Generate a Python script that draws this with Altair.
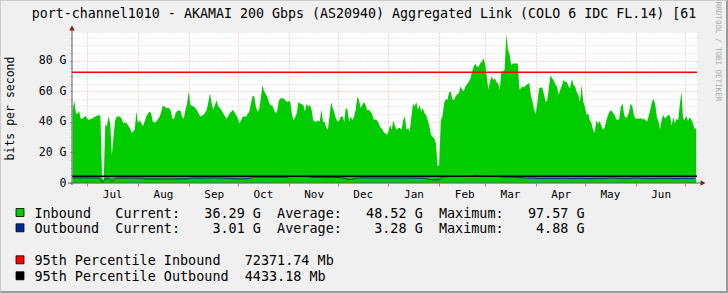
import altair as alt
import pandas as pd

TITLE = "port-channel1010 - AKAMAI 200 Gbps (AS20940) Aggregated Link (COLO 6 IDC FL.14) [61"
Y_TITLE = "bits per second"
WATERMARK = "RRDTOOL / TOBI OETIKER"
FONT = "DejaVu Sans Mono"

# daily inbound (Gbps) starting 2022-06-22
IN_START = "2022-06-22"
inbound_g = [
    47, 54, 46, 45, 47, 42, 42, 43, 44, 42,
    41, 42, 42, 43, 43.5, 44, 44.5, 44, 5, 0.5,
    38, 37, 43.5, 39, 18, 30, 41, 43.5, 43.5, 43.5,
    42, 39, 39.5, 39, 37.5, 36, 32.6, 33.7, 34.8, 46.7,
    39, 41, 39, 37, 40, 43.5, 45, 46.7, 45.6, 40,
    39.5, 40, 41.5, 43, 45.5, 50, 50.5, 49, 49, 49,
    47, 42, 42, 45.5, 47, 47.5, 47, 43, 42, 48,
    52, 59.8, 51, 50.5, 50, 49, 47.5, 45.5, 43.5, 44,
    44.5, 46, 47.8, 53, 58.7, 52, 47.8, 51, 54, 50,
    49, 47.5, 45.6, 44, 42, 43.5, 45.6, 46.5, 47.8, 46,
    44.5, 42, 39, 41, 43.5, 43.5, 43.5, 45, 46.7, 52,
    57, 56.5, 50, 46.5, 48, 55, 64, 60, 58.5, 56,
    53, 50.5, 51, 48, 45.5, 47, 53.5, 55.4, 55.4, 55.2,
    54, 53, 53.5, 53, 45, 41, 43, 45.6, 53, 52,
    51.5, 51, 46.7, 52, 50, 51, 48, 41, 40, 40,
    41, 40, 47.8, 40, 40, 36, 34.8, 43.5, 53, 49,
    45.6, 42, 40, 41, 43.5, 43.5, 40, 49, 47.8, 40,
    43.5, 41, 43.5, 48, 56.5, 54, 49, 51, 53, 51,
    47.5, 47.8, 46.5, 45, 41.5, 41.5, 41, 39, 36.5, 35.5,
    33.5, 32.5, 31.5, 33.7, 38, 34.8, 41, 37, 34.8, 36,
    36, 34.8, 41, 43.5, 34.8, 36, 33.7, 43, 52, 50,
    53, 47.8, 51, 46.7, 49, 45.6, 44.5, 41, 37, 31.5,
    30, 29, 26, 10.9, 12, 41, 43.5, 52, 55, 54,
    59, 60, 55, 54, 56.5, 58, 58.7, 63, 61, 60,
    63, 64.5, 66, 68, 72, 76, 78, 76, 76, 78,
    79, 81.5, 78, 70.6, 61, 66, 69.6, 67.4, 68.5, 66,
    65, 61, 73, 72.8, 74, 97.57, 87, 84, 77, 78,
    78, 78, 78, 61, 62, 63, 62.5, 64, 64.5, 65.5,
    57, 53, 48, 45, 53, 61.5, 62.5, 62, 58, 53,
    54, 62, 70.6, 68.5, 67, 64.3, 63, 57.6, 61, 64,
    67.4, 66, 66, 63, 62, 68, 64, 63, 59.5, 57.5,
    53, 64, 53, 50, 44.5, 45.6, 41, 39, 34.8, 32.6,
    41, 38.5, 40.5, 37.5, 35, 36, 40.5, 44, 46.5, 47.5,
    46, 44.8, 42, 41, 42, 50, 52, 44.5, 42.5, 43.5,
    46.5, 52, 50, 44, 42, 42, 42, 42.5, 41.5, 42,
    41, 40, 44, 48, 53, 55, 51, 43, 40, 35,
    42, 44.5, 42, 43.5, 44.5, 44, 37.5, 43, 39, 42,
    41, 51, 59.8, 42, 41, 44, 40.5, 43, 41.5, 39,
    35, 36.29,
]

# outbound (Gbps) every 2 days starting 2022-06-22
outbound_g = [
    3.3, 3.4, 3.2, 3.3, 3.4, 3.3, 3.2, 3.3, 3.4, 0.5,
    2.5, 3.0, 0.8, 2.8, 3.2, 3.3, 3.3, 3.2, 3.3, 3.3,
    3.2, 3.2, 2.7, 2.6, 2.7, 2.6, 2.6, 2.7, 2.6, 2.6,
    2.7, 2.6, 2.6, 2.7, 2.7, 2.6, 3.2, 3.3, 3.2, 3.1,
    3.2, 3.3, 3.2, 3.4, 3.3, 3.2, 3.2, 3.1, 3.0, 2.9,
    2.7, 2.6, 2.6, 2.7, 3.0, 3.6, 3.8, 3.9, 3.8, 3.9,
    3.8, 3.9, 3.8, 3.9, 3.8, 3.9, 4.0, 4.2, 4.3, 4.2,
    4.3, 4.2, 4.1, 3.8, 3.7, 3.7, 3.8, 3.7, 3.6, 3.7,
    3.6, 3.6, 3.5, 3.2, 2.5, 2.2, 2.8, 3.3, 3.3, 3.4,
    3.3, 3.2, 3.3, 3.3, 3.2, 3.3, 3.2, 3.3, 3.2, 3.3,
    3.3, 3.2, 3.3, 3.2, 3.3, 3.2, 3.1, 3.2, 3.0, 2.3,
    2.1, 2.1, 2.2, 3.8, 4.1, 4.2, 4.2, 4.3, 4.2, 4.3,
    4.3, 4.3, 4.4, 4.88, 4.4, 4.3, 4.3, 4.2, 4.3, 4.2,
    4.3, 4.1, 3.8, 3.9, 3.9, 3.8, 3.7, 3.4, 3.2, 3.1,
    3.3, 3.2, 2.9, 3.0, 2.9, 3.1, 3.0, 2.9, 3.0, 3.1,
    3.1, 3.2, 2.8, 2.9, 3.0, 3.1, 3.0, 2.9, 2.8, 2.8,
    2.9, 3.0, 2.9, 3.1, 3.2, 3.3, 3.1, 3.0, 2.8, 2.8,
    2.9, 3.1, 3.2, 3.2, 3.1, 3.0, 2.9, 2.8, 2.9, 3.0,
    3.1, 3.0, 2.9, 3.0, 2.9, 2.8, 2.9, 3.0, 2.9, 2.8,
    3.01,
]

p95_in_mb = 72371.74
p95_out_mb = 4433.18
in_stats = ["36.29", "48.52", "97.57"]
out_stats = ["3.01", "3.28", "4.88"]
month_starts = [(2022, m) for m in range(7, 13)] + [(2023, m) for m in range(1, 8)]

C_IN = "#00CC00"
C_OUT = "#002A97"
C_P_IN = "#FF0000"
C_P_OUT = "#000000"
GRID_MAJOR = "#E8A8A8"
GRID_MINOR = "#D6D6D6"
AXIS_C = "#606060"
ARROW_C = "#8A1C1C"

in_df = pd.DataFrame({
    "date": pd.date_range(IN_START, periods=len(inbound_g), freq="D").strftime("%Y-%m-%dT00:00:00"),
    "v": inbound_g,
})
out_df = pd.DataFrame({
    "date": pd.date_range(IN_START, periods=len(outbound_g), freq="2D").strftime("%Y-%m-%dT00:00:00"),
    "v": outbound_g,
})
one = pd.DataFrame({"a": [0]})

x_scale = alt.Scale(domain=[alt.DateTime(year=2022, month=6, date=21, hours=16),
                            alt.DateTime(year=2023, month=7, date=8, hours=12)])
y_scale = alt.Scale(domain=[0, 98], nice=False, zero=True)

x_axis = alt.Axis(
    values=[alt.DateTime(year=y, month=m, date=1) for y, m in month_starts],
    labelExpr="(month(datum.value) == 6 && year(datum.value) == 2023) ? '' : timeFormat(datum.value, '%b')",
    labelOffset=25, labelFlush=False, labelOverlap=False, labelAngle=0, labelAlign="center",
    labelFont=FONT, labelFontSize=11, labelColor="#000000", labelPadding=2,
    grid=True, gridColor=GRID_MAJOR, gridDash=[1, 2], gridWidth=1,
    ticks=True, tickColor="#E07070", tickSize=3, domain=False, title=None, zindex=0,
)
y_axis = alt.Axis(
    values=list(range(0, 96, 5)),
    labelExpr="datum.value % 20 == 0 ? (datum.value == 0 ? '0\u00a0\u00a0' : datum.value + ' G') : ''",
    labelOverlap=False, labelFont=FONT, labelFontSize=11.5, labelColor="#000000", labelPadding=4,
    grid=True, gridDash=[1, 2], gridWidth=1,
    gridColor={"condition": {"test": "datum.value % 20 == 0", "value": GRID_MAJOR}, "value": GRID_MINOR},
    ticks=True, tickSize=2,
    tickColor={"condition": {"test": "datum.value % 20 == 0", "value": "#E07070"}, "value": "#BBBBBB"},
    domain=False, title=Y_TITLE, titleFont=FONT, titleFontSize=11.5, titleFontWeight="normal",
    titleColor="#000000", titleAngle=270, titleX=-62, titleY=75, titleAlign="center",
    titleBaseline="middle", zindex=0,
)

X = alt.X("date:T", scale=x_scale, axis=x_axis)

area = alt.Chart(in_df).mark_area(color=C_IN, opacity=1).encode(
    x=X, y=alt.Y("v:Q", scale=y_scale, axis=y_axis))
out_line = alt.Chart(out_df).mark_line(color=C_OUT, strokeWidth=1).encode(
    x=X, y=alt.Y("v:Q", scale=y_scale, axis=y_axis))
p_in = alt.Chart(pd.DataFrame({"v": [p95_in_mb / 1000]})).mark_rule(color=C_P_IN, strokeWidth=1.5).encode(
    y=alt.Y("v:Q", scale=y_scale, axis=y_axis))
p_out = alt.Chart(pd.DataFrame({"v": [p95_out_mb / 1000]})).mark_rule(color=C_P_OUT, strokeWidth=1.5).encode(
    y=alt.Y("v:Q", scale=y_scale, axis=y_axis))

layers = [area, out_line, p_in, p_out]

# axis lines and arrows
layers.append(alt.Chart(one).mark_rule(color=AXIS_C, strokeWidth=1).encode(
    x=alt.value(0), y=alt.value(-3), y2=alt.value(152)))
layers.append(alt.Chart(one).mark_rule(color=AXIS_C, strokeWidth=1).encode(
    x=alt.value(-4), x2=alt.value(629), y=alt.value(150)))
layers.append(alt.Chart(one).mark_point(shape="triangle-up", filled=True, size=32, color=ARROW_C, opacity=1).encode(
    x=alt.value(0), y=alt.value(-5)))
layers.append(alt.Chart(one).mark_point(shape="triangle-right", filled=True, size=32, color=ARROW_C, opacity=1).encode(
    x=alt.value(631), y=alt.value(150)))

# title and watermark
layers.append(alt.Chart(pd.DataFrame({"t": [TITLE]})).mark_text(
    font=FONT, fontSize=13.3, align="center", baseline="middle", color="#000000").encode(
    x=alt.value(292), y=alt.value(-19), text="t:N"))
layers.append(alt.Chart(pd.DataFrame({"t": [WATERMARK]})).mark_text(
    font=FONT, fontSize=7.5, angle=90, align="center", baseline="middle", color="#A8A8A8").encode(
    x=alt.value(646), y=alt.value(18.5), text="t:N"))

NB = "\u00a0"
def pad(s):
    return s.replace(" ", NB)

rows = [
    (C_IN, "Inbound   Current:   %s G  Average:   %s G  Maximum:   %s G" % tuple(in_stats), 181),
    (C_OUT, "Outbound  Current:    %s G  Average:    %s G  Maximum:    %s G" % tuple(out_stats), 196.3),
    (C_P_IN, "95th Percentile Inbound   %.2f Mb" % p95_in_mb, 228.3),
    (C_P_OUT, "95th Percentile Outbound  %.2f Mb" % p95_out_mb, 244.3),
]
for color, text, yc in rows:
    layers.append(alt.Chart(pd.DataFrame({"t": [pad(text)]})).mark_text(
        font=FONT, fontSize=13.45, align="left", baseline="middle", color="#000000").encode(
        x=alt.value(-37.6), y=alt.value(yc), text="t:N"))
    layers.append(alt.Chart(one).mark_rect(color=color, stroke="#000000", strokeWidth=0.8).encode(
        x=alt.value(-56), x2=alt.value(-48), y=alt.value(yc - 5.5), y2=alt.value(yc + 2.5)))

# frame shading
layers.append(alt.Chart(one).mark_rule(color="#9A9A9A", strokeWidth=2).encode(
    x=alt.value(655), y=alt.value(-33), y2=alt.value(260)))
layers.append(alt.Chart(one).mark_rule(color="#9A9A9A", strokeWidth=2).encode(
    x=alt.value(-72), x2=alt.value(656), y=alt.value(259)))
layers.append(alt.Chart(one).mark_rule(color="#CBCBCB", strokeWidth=1).encode(
    x=alt.value(-71.5), y=alt.value(-33), y2=alt.value(259)))
layers.append(alt.Chart(one).mark_rule(color="#CBCBCB", strokeWidth=1).encode(
    x=alt.value(-72), x2=alt.value(655), y=alt.value(-32.5)))

chart = alt.layer(*layers).properties(
    width=625, height=150,
    autosize=alt.AutoSizeParams(type="none"),
    padding={"left": 72, "top": 33, "right": 31, "bottom": 110},
    background="#F0F0F0",
).configure_view(fill="#FFFFFF", stroke=None)

chart.save("out.html", embed_options={"renderer": "svg", "actions": False})
